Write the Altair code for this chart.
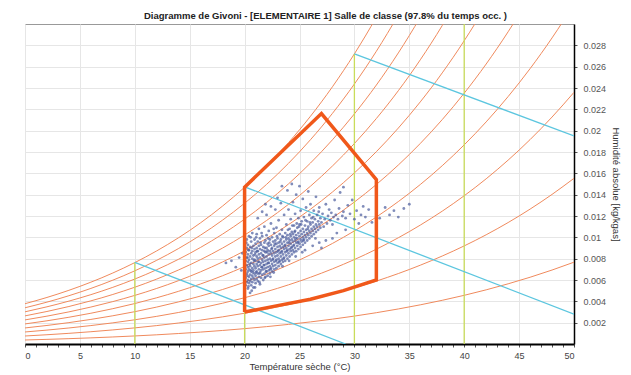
import altair as alt
import pandas as pd

# ---------------- data ----------------
# saturation vapour pressure table (kPa) used to draw the relative-humidity curves
temps_table = [0, 2, 4, 6, 8, 10, 12, 14, 16, 18, 20, 22, 24, 26, 28, 30, 32, 34, 36, 38, 40, 42, 44, 46, 48, 50]
psat_table = [0.6113, 0.7060, 0.8135, 0.9353, 1.0729, 1.2281, 1.4027, 1.5988, 1.8185, 2.0644, 2.3388,
              2.6447, 2.9850, 3.3629, 3.7818, 4.2455, 4.7578, 5.3229, 5.9453, 6.6298, 7.3814, 8.2054,
              9.1075, 10.094, 11.171, 12.344]
rh_levels = [0.1, 0.2, 0.3, 0.4, 0.5, 0.6, 0.7, 0.8, 0.9, 1.0]
p_atm = 101.325

# vertical dry-bulb lines (temperature, top humidity)
vl_t = [10, 20, 30, 40]
vl_w = [0.00766, 0.01474, 0.0272, 0.030]

# enthalpy lines (start on saturation, end)
en_t1 = [10, 20, 30]
en_w1 = [0.00766, 0.01474, 0.0272]
en_t2 = [29.2, 50, 50]
en_w2 = [0.0, 0.0028, 0.0195]

# Givoni comfort polygon
poly_t = [20, 20, 27, 32, 32, 29, 26, 23, 20]
poly_w = [0.0030, 0.0147, 0.0216, 0.0154, 0.0060, 0.0050, 0.0042, 0.0036, 0.0030]

# measured points (temperature °C, humidity kg/kgas)
pts = [
 (18.3,0.0076),(18.8,0.0078),(19.2,0.0072),(19.5,0.0081),(19.7,0.0069),(19.8,0.0085),
 (20.1,0.0055),(20.1,0.0062),(20.1,0.0070),(20.1,0.0078),(20.1,0.0086),(20.2,0.0058),(20.2,0.0066),(20.2,0.0074),(20.2,0.0081),(20.2,0.0090),(20.2,0.0098),(20.3,0.0052),(20.3,0.0060),(20.3,0.0068),(20.3,0.0072),(20.3,0.0077),(20.3,0.0084),(20.3,0.0093),(20.4,0.0057),(20.4,0.0063),(20.4,0.0070),(20.4,0.0079),(20.4,0.0088),(20.4,0.0101),(20.5,0.0048),(20.5,0.0059),(20.5,0.0065),(20.5,0.0073),(20.5,0.0082),(20.5,0.0091),(20.6,0.0055),(20.6,0.0061),(20.6,0.0068),(20.6,0.0076),(20.6,0.0085),(20.6,0.0096),(20.7,0.0058),(20.7,0.0064),(20.7,0.0071),(20.7,0.0080),(20.7,0.0087),(20.7,0.0104),(20.8,0.0053),(20.8,0.0062),(20.8,0.0069),(20.8,0.0075),(20.8,0.0083),(20.8,0.0092),(20.9,0.0060),(20.9,0.0066),(20.9,0.0073),(20.9,0.0079),(20.9,0.0089),(20.9,0.0098),
 (21.0,0.0057),(21.0,0.0064),(21.0,0.0071),(21.0,0.0078),(21.0,0.0086),(21.0,0.0094),(21.1,0.0061),(21.1,0.0068),(21.1,0.0075),(21.1,0.0082),(21.1,0.0090),(21.1,0.0103),(21.2,0.0059),(21.2,0.0066),(21.2,0.0073),(21.2,0.0080),(21.2,0.0087),(21.2,0.0096),(21.3,0.0063),(21.3,0.0070),(21.3,0.0077),(21.3,0.0084),(21.3,0.0092),(21.3,0.0108),(21.4,0.0056),(21.4,0.0067),(21.4,0.0074),(21.4,0.0081),(21.4,0.0089),(21.4,0.0099),(21.5,0.0062),(21.5,0.0069),(21.5,0.0076),(21.5,0.0085),(21.5,0.0093),(21.6,0.0065),(21.6,0.0072),(21.6,0.0079),(21.6,0.0088),(21.6,0.0101),(21.7,0.0060),(21.7,0.0070),(21.7,0.0077),(21.7,0.0083),(21.7,0.0091),(21.8,0.0066),(21.8,0.0074),(21.8,0.0081),(21.8,0.0087),(21.8,0.0095),(21.8,0.0110),(21.9,0.0063),(21.9,0.0071),(21.9,0.0078),(21.9,0.0086),(21.9,0.0097),
 (22.0,0.0068),(22.0,0.0075),(22.0,0.0082),(22.0,0.0090),(22.0,0.0102),(22.1,0.0064),(22.1,0.0072),(22.1,0.0079),(22.1,0.0088),(22.1,0.0094),(22.2,0.0069),(22.2,0.0076),(22.2,0.0084),(22.2,0.0092),(22.2,0.0106),(22.3,0.0066),(22.3,0.0073),(22.3,0.0080),(22.3,0.0087),(22.3,0.0098),(22.4,0.0071),(22.4,0.0078),(22.4,0.0085),(22.4,0.0093),(22.4,0.0113),(22.5,0.0068),(22.5,0.0075),(22.5,0.0083),(22.5,0.0090),(22.5,0.0100),(22.6,0.0073),(22.6,0.0080),(22.6,0.0087),(22.6,0.0096),(22.7,0.0070),(22.7,0.0077),(22.7,0.0085),(22.7,0.0092),(22.7,0.0104),(22.8,0.0074),(22.8,0.0082),(22.8,0.0089),(22.8,0.0097),(22.9,0.0071),(22.9,0.0079),(22.9,0.0086),(22.9,0.0094),(22.9,0.0109),
 (23.0,0.0076),(23.0,0.0083),(23.0,0.0091),(23.0,0.0099),(23.1,0.0073),(23.1,0.0080),(23.1,0.0088),(23.1,0.0095),(23.1,0.0116),(23.2,0.0078),(23.2,0.0085),(23.2,0.0092),(23.2,0.0103),(23.3,0.0075),(23.3,0.0082),(23.3,0.0090),(23.3,0.0098),(23.4,0.0079),(23.4,0.0087),(23.4,0.0094),(23.4,0.0107),(23.5,0.0077),(23.5,0.0084),(23.5,0.0091),(23.5,0.0100),(23.6,0.0081),(23.6,0.0089),(23.6,0.0096),(23.6,0.0121),(23.7,0.0078),(23.7,0.0086),(23.7,0.0093),(23.7,0.0104),(23.8,0.0083),(23.8,0.0090),(23.8,0.0098),(23.8,0.0112),(23.9,0.0080),(23.9,0.0088),(23.9,0.0095),(23.9,0.0102),
 (24.0,0.0085),(24.0,0.0092),(24.0,0.0099),(24.0,0.0126),(24.1,0.0082),(24.1,0.0089),(24.1,0.0097),(24.1,0.0108),(24.2,0.0087),(24.2,0.0094),(24.2,0.0101),(24.2,0.0117),(24.3,0.0084),(24.3,0.0091),(24.3,0.0098),(24.3,0.0105),(24.4,0.0088),(24.4,0.0096),(24.4,0.0103),(24.4,0.0133),(24.5,0.0086),(24.5,0.0093),(24.5,0.0100),(24.5,0.0111),(24.6,0.0090),(24.6,0.0097),(24.6,0.0106),(24.6,0.0122),(24.7,0.0087),(24.7,0.0095),(24.7,0.0102),(24.7,0.0140),(24.8,0.0092),(24.8,0.0099),(24.8,0.0109),(24.9,0.0089),(24.9,0.0096),(24.9,0.0104),(24.9,0.0118),
 (25.0,0.0094),(25.0,0.0101),(25.0,0.0112),(25.0,0.0148),(25.1,0.0091),(25.1,0.0098),(25.1,0.0106),(25.1,0.0125),(25.2,0.0096),(25.2,0.0103),(25.2,0.0115),(25.3,0.0093),(25.3,0.0100),(25.3,0.0108),(25.3,0.0136),(25.4,0.0098),(25.4,0.0105),(25.4,0.0119),(25.5,0.0095),(25.5,0.0102),(25.5,0.0111),(25.6,0.0100),(25.6,0.0107),(25.6,0.0128),(25.7,0.0097),(25.7,0.0104),(25.7,0.0115),(25.8,0.0102),(25.8,0.0110),(25.8,0.0143),(25.9,0.0099),(25.9,0.0106),(25.9,0.0121),
 (26.0,0.0104),(26.0,0.0112),(26.0,0.0131),(26.1,0.0101),(26.1,0.0108),(26.1,0.0118),(26.2,0.0106),(26.2,0.0114),(26.3,0.0103),(26.3,0.0110),(26.3,0.0125),(26.4,0.0108),(26.4,0.0117),(26.5,0.0105),(26.5,0.0112),(26.5,0.0138),(26.6,0.0110),(26.6,0.0121),(26.7,0.0107),(26.7,0.0115),(26.8,0.0112),(26.8,0.0128),(26.9,0.0109),(26.9,0.0118),
 (27.0,0.0114),(27.1,0.0122),(27.2,0.0110),(27.3,0.0117),(27.4,0.0131),(27.5,0.0113),(27.6,0.0120),(27.7,0.0126),(27.8,0.0116),(27.9,0.0123),(28.0,0.0112),(28.1,0.0119),(28.2,0.0135),(28.3,0.0121),(28.5,0.0117),(28.6,0.0127),(28.7,0.0142),(28.9,0.0120),(29.0,0.0147),(29.0,0.0124),
 (29.2,0.0118),(29.4,0.0130),(29.6,0.0122),(29.8,0.0135),(30.0,0.0117),(30.2,0.0125),(30.4,0.0113),(30.6,0.0121),(30.8,0.0129),(31.0,0.0119),(31.3,0.0126),(31.6,0.0114),(32.0,0.0122),(32.3,0.0118),(32.8,0.0128),(33.2,0.0121),(33.6,0.0125),(34.0,0.0119),(34.5,0.0127),(35.0,0.0131),
 (21.2,0.0118),(21.6,0.0124),(22.0,0.0121),(22.4,0.0129),(22.8,0.0126),(23.3,0.0132),(21.9,0.0131),(23.0,0.0137),
 (23.4,0.0148),(23.9,0.0144),(24.3,0.0150),
 (25.5,0.0088),(26.2,0.0092),(26.8,0.0095),(27.4,0.0097),(28.0,0.0099),(27.0,0.0090),(28.4,0.0104),(29.2,0.0107),
 (20.25,0.0064),(20.35,0.0088),(20.45,0.0075),(20.55,0.0069),(20.65,0.0090),(20.75,0.0067),(20.85,0.0078),(20.95,0.0084),(21.05,0.0067),(21.15,0.0087),(21.25,0.0077),(21.35,0.0066),(21.45,0.0095),(21.55,0.0072),(21.65,0.0083),(21.75,0.0074),(21.85,0.0090),(21.95,0.0068),(22.05,0.0086),(22.15,0.0076),(22.25,0.0095),(22.35,0.0070),(22.45,0.0089),(22.55,0.0079),(22.65,0.0067),(22.75,0.0094),(22.85,0.0078),(22.95,0.0101),(23.05,0.0087),(23.15,0.0077),(23.25,0.0096),(23.35,0.0086),(23.45,0.0101),(23.55,0.0080),(23.65,0.0092),(23.75,0.0100),(23.85,0.0087),(23.95,0.0107),(24.05,0.0095),(24.15,0.0103),(24.25,0.0090),(24.35,0.0111),(24.45,0.0092),(24.55,0.0105),(24.65,0.0099),(24.75,0.0113),(24.85,0.0095),(24.95,0.0110),(25.15,0.0112),(25.35,0.0097),(25.55,0.0116),(25.75,0.0108),(25.95,0.0114),(26.25,0.0119),(26.45,0.0099),(26.75,0.0124),
 (20.15,0.0095),(20.35,0.0054),(20.55,0.0100),(20.25,0.0081),(21.05,0.0100),(21.55,0.0104),(22.15,0.0099),(22.65,0.0108),(21.35,0.0058),(21.85,0.0062),(22.35,0.0063),(20.65,0.0050),(20.95,0.0053),(23.45,0.0073),(24.05,0.0078),(24.65,0.0082),(25.25,0.0086),
]
pt_t = [p[0] for p in pts]
pt_w = [p[1] for p in pts]

# ---------------- tables ----------------
rh_rows = []
for rh in rh_levels:
    for t, ps in zip(temps_table, psat_table):
        pv = rh * ps
        rh_rows.append({"t": t, "w": 0.622 * pv / (p_atm - pv), "rh": rh})
rh_df = pd.DataFrame(rh_rows)
vl_df = pd.DataFrame({"t": vl_t, "w0": [0.0] * len(vl_t), "w": vl_w})
en_df = pd.DataFrame({"t": en_t1, "w": en_w1, "t2": en_t2, "w2": en_w2})
poly_df = pd.DataFrame({"t": poly_t, "w": poly_w, "o": list(range(len(poly_t)))})
pt_df = pd.DataFrame({"t": pt_t, "w": pt_w})

LBL = "Liberation Sans"
xscale = alt.Scale(domain=[0, 50], nice=False, zero=False)
yscale = alt.Scale(domain=[0, 0.030], nice=False)

xaxis = alt.Axis(
    title="Température sèche (°C)",
    values=list(range(0, 51)),
    labelExpr="datum.value % 5 === 0 ? format(datum.value, 'd') : ''",
    gridOpacity={"condition": {"test": "datum.value % 5 === 0", "value": 1}, "value": 0},
    tickSize=3, tickColor="#555", domainColor="#000", domainWidth=2,
    labelFont=LBL, labelFontSize=9, labelColor="#444", labelPadding=4,
    titleFont=LBL, titleFontSize=9.5, titleFontWeight="normal", titleColor="#333", titlePadding=1,
)
yaxis = alt.Axis(
    title="Humidité absolue [kg/kgas]", orient="right",
    values=[round(0.002 * i, 3) for i in range(1, 15)],
    labelExpr="format(datum.value, '.3~f')",
    tickSize=3, tickColor="#555", domainColor="#000", domainWidth=1.5,
    labelFont=LBL, labelFontSize=9, labelColor="#555", labelPadding=6,
    titleFont=LBL, titleFontSize=9.5, titleFontWeight="normal", titleColor="#333", titlePadding=5,
)

X = alt.X("t:Q", scale=xscale, axis=xaxis)
Y = alt.Y("w:Q", scale=yscale, axis=yaxis)

rh_layer = alt.Chart(rh_df).mark_line(clip=True, strokeWidth=1, color="#f08a5d", interpolate="monotone").encode(
    x=X, y=Y, detail="rh:N")

vl_layer = alt.Chart(vl_df).mark_rule(clip=True, strokeWidth=1.3, color="#c9dc5a").encode(
    x=X, y=alt.Y("w0:Q", scale=yscale, axis=yaxis), y2="w:Q")

en_layer = alt.Chart(en_df).mark_rule(clip=True, strokeWidth=1.3, color="#5cc6df").encode(
    x=X, y=Y, x2="t2:Q", y2="w2:Q")

pt_layer = alt.Chart(pt_df).mark_circle(size=8, color="#4a5b9c", opacity=0.7).encode(x=X, y=Y)

poly_layer = alt.Chart(poly_df).mark_line(strokeWidth=3.5, color="#f0581a", strokeJoin="miter").encode(
    x=X, y=Y, order="o:Q")

chart = alt.layer(rh_layer, vl_layer, en_layer, pt_layer, poly_layer).properties(
    width=549, height=320,
    title=alt.TitleParams(
        "Diagramme de Givoni - [ELEMENTAIRE 1] Salle de classe (97.8% du temps occ. )",
        font="Liberation Sans", fontSize=9.5, fontWeight="bold", color="#222",
        anchor="middle", dx=26, offset=4),
    autosize=alt.AutoSizeParams(type="none"),
    padding={"left": 17, "top": 16, "right": 49, "bottom": 30},
).configure_view(stroke="#999", strokeWidth=1).configure_axis(gridColor="#e6e6e6", gridWidth=1)

chart.save("out.html", embed_options={"renderer": "svg", "actions": False})
